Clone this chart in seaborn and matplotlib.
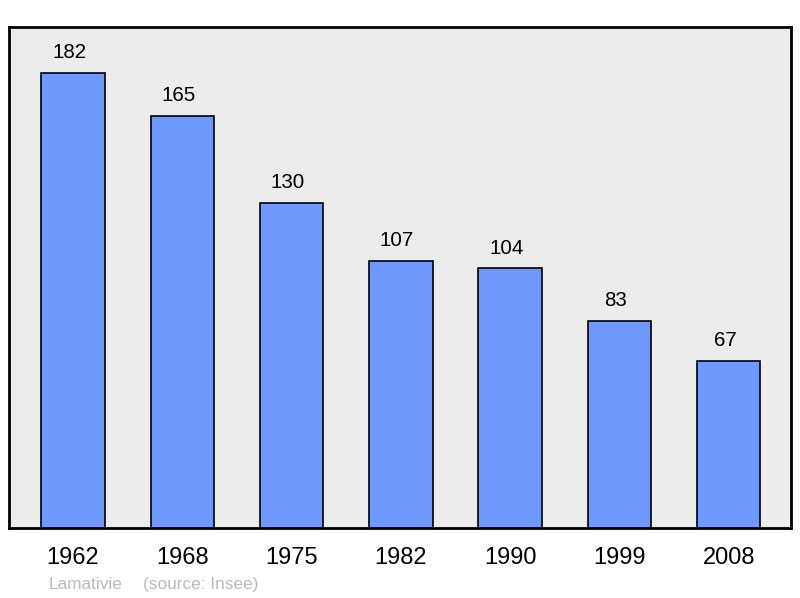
import matplotlib
matplotlib.use("Agg")
import matplotlib.pyplot as plt
import seaborn as sns
import pandas as pd
from matplotlib.transforms import offset_copy

years = ["1962", "1968", "1975", "1982", "1990", "1999", "2008"]
population = [182, 165, 130, 107, 104, 83, 67]

sns.set_style("white")
plt.rcParams['font.family'] = ['Liberation Sans', 'DejaVu Sans']

df = pd.DataFrame({"year": years, "pop": population})

fig = plt.figure(figsize=(8, 5.98), dpi=100)
ax = fig.add_axes([9/800, 70/598, 782/800, 501/598])
ax.set_facecolor("#ececec")

sns.barplot(data=df, x="year", y="pop", ax=ax, color="#7099ff",
            saturation=1, width=0.58, edgecolor="black", linewidth=1.2)

trans = offset_copy(ax.transData, fig=fig, x=-3.7, y=0, units="dots")
for i, v in enumerate(population):
    ax.text(i, v + 8.0, str(v), ha="center", va="center", fontsize=14.8,
            color="black", transform=trans)

ax.set_xlim(-0.585, 6.57)
ax.set_ylim(0, 200.4)
ax.set_yticks([])
ax.set_xlabel("")
ax.set_ylabel("")
ax.tick_params(axis="x", length=0, labelsize=17, pad=14, labelcolor="black")
for s in ax.spines.values():
    s.set_visible(True)
    s.set_color("black")
    s.set_linewidth(2)

fig.text(49/800, 1 - 584.5/598, "Lamativie", fontsize=12.4,
         color="#bbbbbb", ha="left", va="center")
fig.text(143/800, 1 - 584.5/598, "(source: Insee)", fontsize=12.4,
         color="#bbbbbb", ha="left", va="center")

fig.savefig("out.png", dpi=100, facecolor="white")
